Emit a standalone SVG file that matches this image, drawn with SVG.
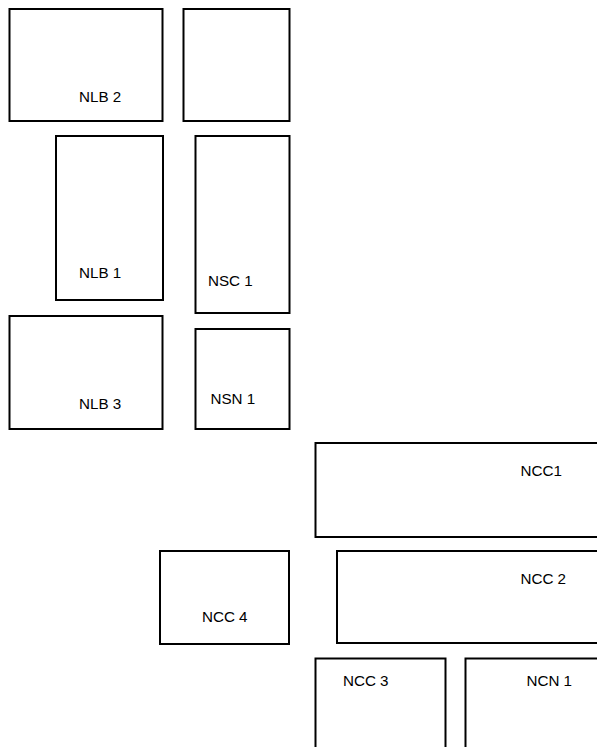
<svg xmlns="http://www.w3.org/2000/svg" width="597" height="747" viewBox="0 0 597 747">
<style>
rect{fill:#fff;stroke:#000;stroke-width:2}
text{font-family:"Liberation Sans",Arial,sans-serif;font-size:15.2px;fill:#000}
</style>
<rect x="0" y="0" width="597" height="747" style="stroke:none"/>
<g id="nlb2"><rect x="9.5" y="9" width="153" height="112"/><text x="79" y="101.5">NLB 2</text></g>
<g id="box-top"><rect x="183.5" y="9" width="106" height="112"/></g>
<g id="nlb1"><rect x="56" y="136" width="107" height="164"/><text x="79" y="278">NLB 1</text></g>
<g id="nsc1"><rect x="195.5" y="136" width="94" height="177"/><text x="208" y="285.5">NSC 1</text></g>
<g id="nlb3"><rect x="9.5" y="316" width="153" height="113"/><text x="79" y="408.5">NLB 3</text></g>
<g id="nsn1"><rect x="195.5" y="329" width="94" height="100"/><text x="210.5" y="404">NSN 1</text></g>
<g id="ncc1"><rect x="315.5" y="443" width="290" height="94"/><text x="520.5" y="476">NCC1</text></g>
<g id="ncc4"><rect x="160" y="551" width="129" height="93"/><text x="202" y="622">NCC 4</text></g>
<g id="ncc2"><rect x="337" y="551" width="270" height="92"/><text x="520.5" y="584">NCC 2</text></g>
<g id="ncc3"><rect x="315.5" y="658.5" width="130" height="100"/><text x="343" y="685.5">NCC 3</text></g>
<g id="ncn1"><rect x="465.5" y="658.5" width="140" height="100"/><text x="526.5" y="685.5">NCN 1</text></g>
<g id="connectors"></g>
</svg>
